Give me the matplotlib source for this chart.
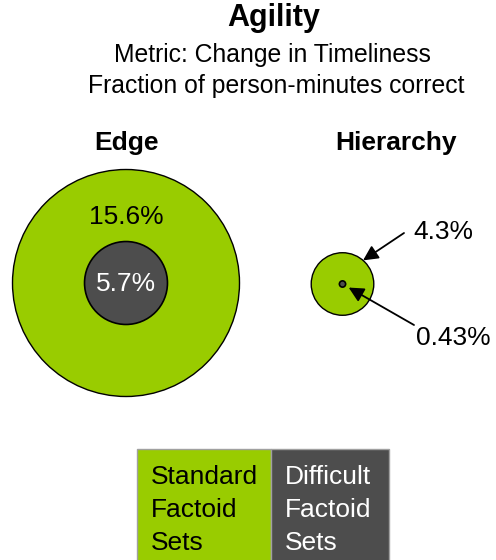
import numpy as np
import matplotlib.pyplot as plt
from matplotlib.patches import Circle, Rectangle

plt.rcParams['font.family'] = ['Liberation Sans', 'DejaVu Sans']

# change in timeliness, percent of person-minutes correct
groups = ['Edge', 'Hierarchy']
standard = [15.6, 4.3]
difficult = [5.7, 0.43]
legend_labels = ['Standard\nFactoid\nSets', 'Difficult\nFactoid\nSets']

GREEN = '#99cc00'
GRAY = '#4d4d4d'
W, H = 496, 560
px_per_pct = 113.5 / 15.6  # circle radius grows linearly with the value

fig = plt.figure(figsize=(W / 100, H / 100), dpi=100)
ax = fig.add_axes([0, 0, 1, 1])
ax.set_xlim(0, W)
ax.set_ylim(H, 0)
ax.set_aspect('equal')
ax.axis('off')

ax.text(274, 18, 'Agility', ha='center', va='center', fontsize=22, fontweight='bold')
ax.text(272, 55, 'Metric: Change in Timeliness', ha='center', va='center', fontsize=17.8)
ax.text(276, 86, 'Fraction of person-minutes correct', ha='center', va='center', fontsize=17.8)

centers = [(126, 283), (342.5, 284)]
title_x = [127, 396]
for i, name in enumerate(groups):
    cx, cy = centers[i]
    r_out = standard[i] * px_per_pct
    r_in = difficult[i] * px_per_pct
    ax.add_patch(Circle((cx, cy), r_out, fc=GREEN, ec='black', lw=1.0))
    ax.add_patch(Circle((cx, cy), r_in, fc=GRAY, ec='black', lw=1.2))
    ax.text(title_x[i], 143, name, ha='center', va='center', fontsize=19, fontweight='bold')

# Edge: values written inside the rings
cx, cy = centers[0]
ax.text(cx, 217, f'{standard[0]}%', ha='center', va='center', fontsize=19)
ax.text(cx, cy + 1, f'{difficult[0]}%', ha='center', va='center', fontsize=19, color='white')

# Hierarchy: too small, so label with arrows
cx, cy = centers[1]
r_out = standard[1] * px_per_pct
r_in = difficult[1] * px_per_pct
a = np.deg2rad(49)
arrow = dict(arrowstyle='-|>,head_length=0.5,head_width=0.25', color='black', lw=1.3,
             mutation_scale=18, shrinkA=0, shrinkB=0)
ax.annotate('', xy=(cx + r_out * np.cos(a), cy - r_out * np.sin(a)), xytext=(404, 233), arrowprops=arrow)
ax.text(413, 232, f'{standard[1]}%', ha='left', va='center', fontsize=19)
b = np.deg2rad(-30)
ax.annotate('', xy=(cx + (r_in + 4) * np.cos(b), cy - (r_in + 4) * np.sin(b)), xytext=(414, 325), arrowprops=arrow)
ax.text(416, 338, f'{difficult[1]}%', ha='left', va='center', fontsize=19)

# legend boxes at the bottom
box_x = [137, 271]
box_w = [134, 118]
box_fc = [GREEN, GRAY]
txt_c = ['black', 'white']
for i, lab in enumerate(legend_labels):
    ax.add_patch(Rectangle((box_x[i], 449), box_w[i], 120, fc=box_fc[i], ec='#a0a0a0', lw=1.0))
    ax.text(box_x[i] + 14, 510, lab, ha='left', va='center', fontsize=19,
            color=txt_c[i], linespacing=1.48)

fig.savefig('out.png', dpi=100)
